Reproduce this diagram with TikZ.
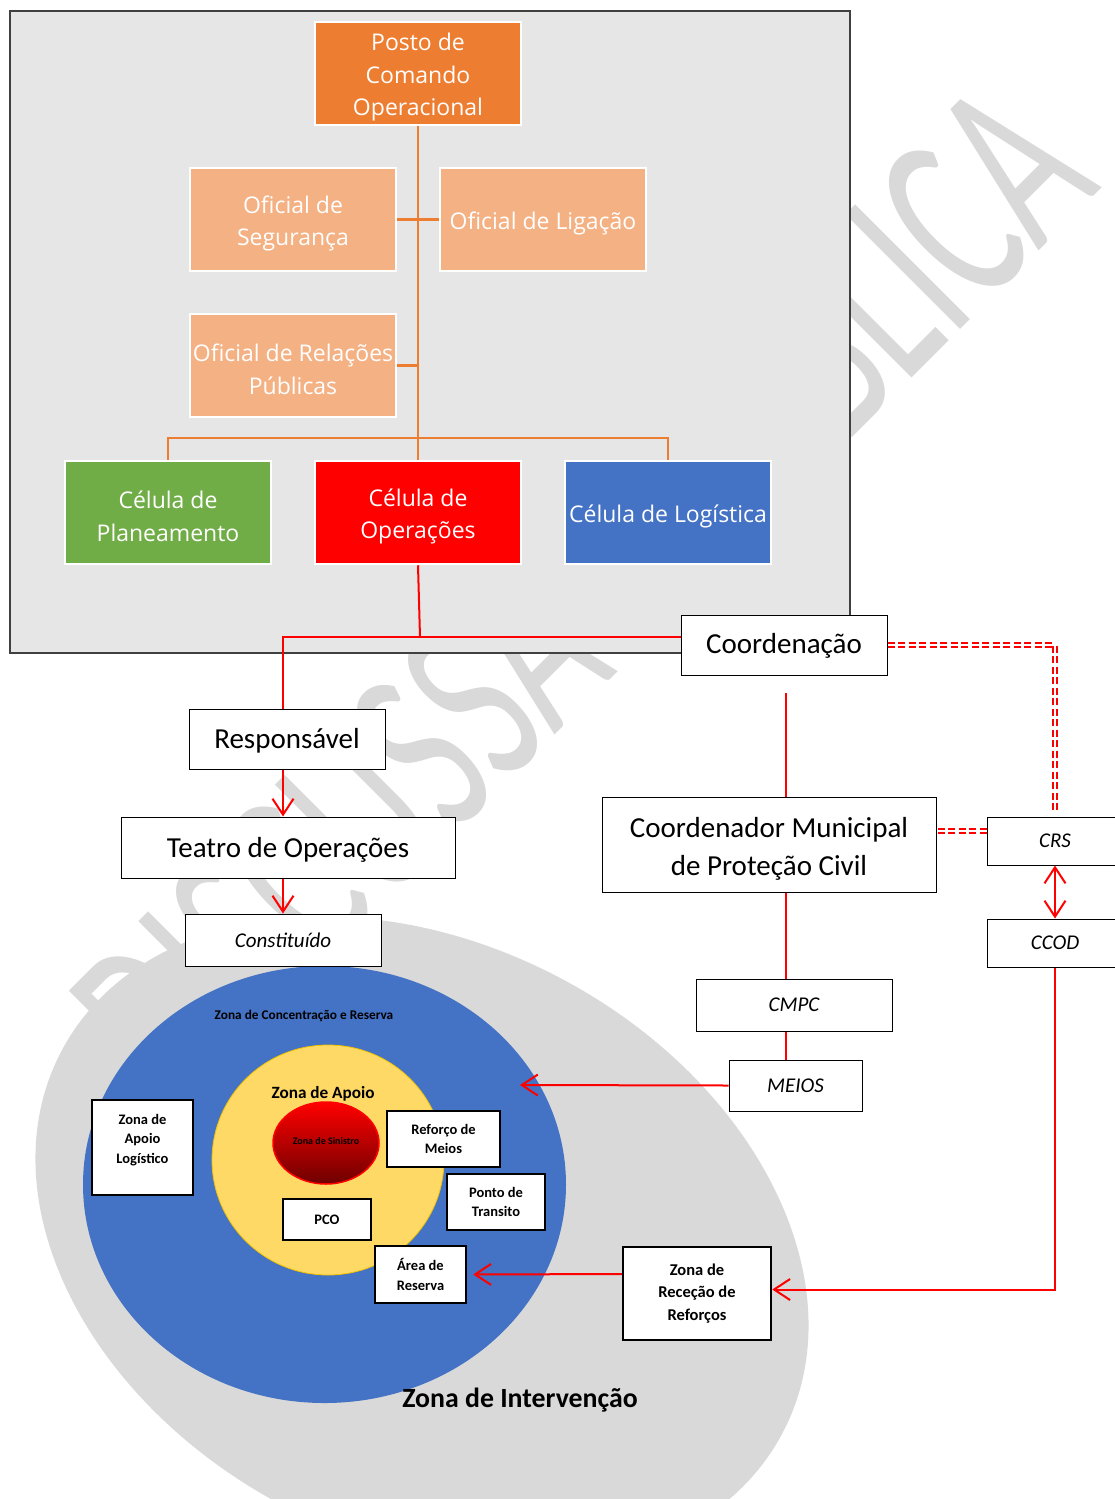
\documentclass[tikz,border=0pt]{standalone}
\usepackage{fontspec}
\setmainfont{Carlito}
\newfontfamily\orgfont{Open Sans}
\usetikzlibrary{arrows.meta,shapes.geometric}

\definecolor{panelgray}{HTML}{E7E6E6}
\definecolor{paneledge}{HTML}{404040}
\definecolor{pcoorange}{HTML}{ED7D31}
\definecolor{officerorange}{HTML}{F4B183}
\definecolor{cellgreen}{HTML}{70AD47}
\definecolor{cellblue}{HTML}{4472C4}
\definecolor{supportyellow}{HTML}{FFD966}
\definecolor{supportedge}{HTML}{F2C200}
\definecolor{zonegray}{HTML}{D9D9D9}
\definecolor{stampgray}{HTML}{D9D9D9}
\definecolor{sinisterdark}{HTML}{6E0000}

\newcommand{\fsz}[2]{\fontsize{#1}{#2}\selectfont}

\tikzset{
  orgbox/.style={draw=white, line width=2.5pt, minimum width=206pt, minimum height=103pt, inner sep=0pt},
  orgtext/.style={text=white, align=center, font=\orgfont\fsz{23}{32.5}, inner sep=0pt, yshift=-4pt},
  flowbox/.style={draw=black, line width=1pt, fill=white, inner sep=0pt},
  flowtext/.style={align=center, font=\fsz{29}{38}, inner sep=0pt},
  tagbox/.style={draw=black, line width=1pt, fill=white,
    font=\itshape\fsz{21}{25}, inner sep=0pt},
  zonebox/.style={draw=black, line width=2.5pt, fill=white, align=center,
    font=\bfseries\fsz{14.5}{19.5}, inner sep=0pt},
  zonelabel/.style={inner sep=0pt, font=\bfseries},
  treeline/.style={draw=pcoorange, line width=2.5pt},
  redline/.style={draw=red, line width=2pt},
  barb/.tip={Straight Barb[length=16pt, width=21pt, line width=2pt]},
  redarrow/.style={redline, -barb},
  reddouble/.style={draw=red, line width=1.6pt, double=white, double distance=2pt,
    dash pattern=on 7pt off 3.5pt},
}

\begin{document}
\begin{tikzpicture}[x=1pt, y=-1pt]
\useasboundingbox (0,0) rectangle (1115,1499);
\clip (0,0) rectangle (1115,1499);

% diagonal stamp across the page
\node[anchor=base east, rotate=45, text=stampgray, inner sep=0pt,
      font=\fsz{253}{253}] (stamp) at (1103,187) {\scalebox{0.62}[1]{DISCUSSÃO PÚBLICA}};

% command post panel
\draw[fill=panelgray, draw=paneledge, line width=1.5pt] (10,11) rectangle (850,653);

% intervention zones
\fill[zonegray, rotate around={-28:(422,1242)}] (422,1242) ellipse [x radius=408, y radius=298];
\fill[cellblue] (324.5,1184.5) ellipse [x radius=241.5, y radius=218.5];
\draw[fill=supportyellow, draw=supportedge, line width=0.8pt] (328,1160) ellipse [x radius=116, y radius=115];
\node[ellipse, minimum width=106pt, minimum height=82pt, draw=red, line width=1.5pt,
      top color=red, middle color=red!88!black, bottom color=sinisterdark, inner sep=0pt,
      font=\bfseries\fsz{10}{12}] (sin) at (326,1143) {\raisebox{4pt}{Zona de Sinistro}};

\node[zonelabel, font=\bfseries\fsz{13.3}{16}] (zcr) at (304,1016) {Zona de Concentração e Reserva};
\node[zonelabel, font=\bfseries\fsz{17.2}{20}] (zap) at (323,1094) {Zona de Apoio};
\node[zonelabel, font=\bfseries\fsz{27.8}{32}] (zint) at (520,1400) {Zona de Intervenção};

\node[zonebox, minimum width=101pt, minimum height=95pt] (zal) at (142.5,1147.5) {Zona de\\Apoio\\Logístico\\[-2pt]\mbox{}};
\node[zonebox, minimum width=113pt, minimum height=56pt] (rfm) at (443.5,1139) {Reforço de\\Meios};
\node[zonebox, minimum width=98pt, minimum height=56pt] (pt) at (496,1202) {Ponto de\\Transito};
\node[zonebox, minimum width=88pt, minimum height=41pt] (pco2) at (327,1219.5) {PCO};
\node[zonebox, minimum width=91pt, minimum height=57pt] (ares) at (420.5,1274.5) {Área de\\Reserva};
\node[zonebox, minimum width=148pt, minimum height=93pt, font=\bfseries\fsz{16.5}{22.5}] (zrr) at (697,1293.5) {Zona de\\Receção de\\Reforços};

% organisation chart
\node[orgbox, fill=pcoorange, label={[orgtext]center:{Posto de\\Comando\\Operacional}}] (pco) at (418,73.5) {};
\node[orgbox, fill=officerorange, label={[orgtext]center:{Oficial de\\Segurança}}] (seg) at (293,219.5) {};
\node[orgbox, fill=officerorange, label={[orgtext]center:{Oficial de Ligação}}] (lig) at (543,219.5) {};
\node[orgbox, fill=officerorange, label={[orgtext]center:{Oficial de Relações\\Públicas}}] (rp) at (293,365.5) {};
\node[orgbox, fill=cellgreen, label={[orgtext]center:{Célula de\\Planeamento}}] (plan) at (168,512.5) {};
\node[orgbox, fill=red, label={[orgtext]center:{Célula de\\Operações}}] (ops) at (418,512.5) {};
\node[orgbox, fill=cellblue, label={[orgtext]center:{Célula de Logística}}] (log) at (668,512.5) {};

\draw[treeline] (pco.south) -- (ops.north);
\draw[treeline] (seg.east) -- (lig.west);
\draw[treeline] (rp.east) -- (rp.east -| pco.south);
\draw[treeline] (plan.north) -- ++(0,-22) -| (log.north);

% coordination chain
\node[flowbox, minimum width=206pt, minimum height=60pt, label={[flowtext, yshift=-1pt]center:Coordenação}] (coord) at (784,645) {};
\node[flowbox, minimum width=196pt, minimum height=60pt, label={[flowtext, yshift=-2pt]center:Responsável}] (resp) at (287,739) {};
\node[flowbox, minimum width=334pt, minimum height=61pt, label={[flowtext, yshift=-2pt]center:{Teatro de Operações}}] (teatro) at (288,847.5) {};
\node[tagbox, minimum width=196pt, minimum height=52pt] (const) at (283,940) {Constituído};
\node[flowbox, minimum width=334pt, minimum height=95pt, label={[flowtext, yshift=-4pt]center:{Coordenador Municipal\\de Proteção Civil}}] (cm) at (769,844.5) {};
\node[tagbox, minimum width=196pt, minimum height=52pt] (cmpc) at (794,1005) {CMPC};
\node[tagbox, minimum width=133pt, minimum height=51pt] (meios) at (795.5,1085.5) {MEIOS};
\node[tagbox, minimum width=136pt, minimum height=48pt] (crs) at (1055,841) {CRS};
\node[tagbox, minimum width=136pt, minimum height=48pt] (ccod) at (1055,943) {CCOD};

\coordinate (opsjoin) at (420,637);
\coordinate (cgap) at (786,693);
\coordinate (blueedge) at (520,1085);

\draw[redline] (ops.south) -- (opsjoin);
\draw[redline] ([yshift=8pt]coord.west) -| ([xshift=-4pt]resp.north);
\draw[redarrow] ([xshift=-4pt]resp.south) -- ([xshift=-5pt]teatro.north);
\draw[redarrow] ([xshift=-5pt]teatro.south) -- (const.north);
\draw[redline] (cgap) -- (cgap |- cm.north);
\draw[redline] (cgap |- cm.south) -- (cgap |- cmpc.north);
\draw[redline] (cgap |- cmpc.south) -- (cgap |- meios.north);
\draw[redarrow] (meios.west) -- (blueedge);
\draw[redline, barb-barb] (crs.south) -- (ccod.north);
\draw[redarrow] (ccod.south) |- ([yshift=4pt]zrr.east);
\draw[redarrow, shorten >=6pt] ([yshift=19.5pt]zrr.west) -- (ares.east);
\draw[reddouble] (coord.east) -| ([yshift=7pt]crs.north);
\draw[reddouble] ([yshift=10pt]crs.west) -- ([yshift=10pt]crs.west -| cm.east);
\end{tikzpicture}
\end{document}
